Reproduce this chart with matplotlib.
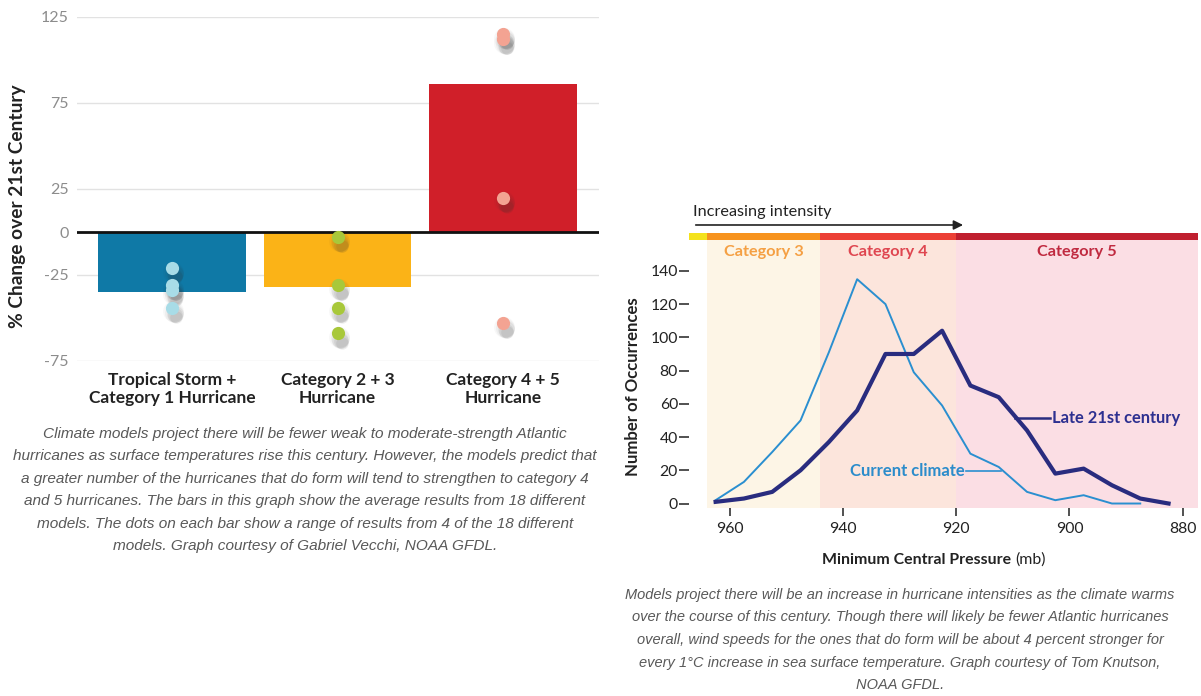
import matplotlib
matplotlib.use("Agg")
import matplotlib.pyplot as plt
from matplotlib.patches import Rectangle
import matplotlib.transforms as mtransforms

# ---------------- data: left chart ----------------
categories = ["Tropical Storm +\nCategory 1 Hurricane", "Category 2 + 3\nHurricane", "Category 4 + 5\nHurricane"]
mean_change = [-35, -32, 86]
model_dots = [[-21, -31, -34, -44], [-3, -31, -44, -59], [115, 112, 20, -53]]
left_yticks = [125, 75, 25, 0, -25, -75]

# ---------------- data: right chart ----------------
pressure_current = [962.5, 957.5, 952.5, 947.5, 942.5, 937.5, 932.5, 927.5, 922.5, 917.5, 912.5, 907.5, 902.5, 897.5, 892.5, 887.5]
current_climate = [2, 13, 31, 50, 91, 135, 120, 79, 59, 30, 22, 7, 2, 5, 0, 0]
pressure_late = [962.5, 957.5, 952.5, 947.5, 942.5, 937.5, 932.5, 927.5, 922.5, 917.5, 912.5, 907.5, 902.5, 897.5, 892.5, 887.5, 882.5]
late_21st = [1, 3, 7, 20, 37, 56, 90, 90, 104, 71, 64, 44, 18, 21, 11, 3, 0]
right_xticks = [960, 940, 920, 900, 880]
right_yticks = [0, 20, 40, 60, 80, 100, 120, 140]
category_names = ["Category 3", "Category 4", "Category 5"]
category_bounds = [964, 944, 920]  # start of Cat 3, Cat 4, Cat 5 (mb)

left_caption = ("Climate models project there will be fewer weak to moderate-strength Atlantic\n"
                "hurricanes as surface temperatures rise this century. However, the models predict that\n"
                "a greater number of the hurricanes that do form will tend to strengthen to category 4\n"
                "and 5 hurricanes. The bars in this graph show the average results from 18 different\n"
                "models. The dots on each bar show a range of results from 4 of the 18 different\n"
                "models. Graph courtesy of Gabriel Vecchi, NOAA GFDL.")
right_caption = ("Models project there will be an increase in hurricane intensities as the climate warms\n"
                 "over the course of this century. Though there will likely be fewer Atlantic hurricanes\n"
                 "overall, wind speeds for the ones that do form will be about 4 percent stronger for\n"
                 "every 1°C increase in sea surface temperature. Graph courtesy of Tom Knutson,\n"
                 "NOAA GFDL.")

# ---------------- styles ----------------
FONT = ["Lato", "DejaVu Sans"]
plt.rcParams["font.family"] = FONT
plt.rcParams["axes.unicode_minus"] = False
bar_colors = ["#0f79a6", "#fbb317", "#d01f29"]
dot_colors = ["#a8dce7", "#a8c83a", "#f3a392"]
band_colors = ["#fdf5e6", "#fce5dc", "#fbdee4"]
strip_colors = ["#f4e21c", "#f7931e", "#ec4036", "#c01f2f"]
label_colors = ["#f5a044", "#df4650", "#c02a40"]

W, H = 1201, 696
fig = plt.figure(figsize=(W / 100, H / 100), dpi=100)
fig.patch.set_facecolor("white")


def fx(px):
    return px / W


def fy(py):
    return 1 - py / H


# ================= LEFT CHART =================
axL = fig.add_axes([fx(77), fy(361), (599 - 77) / W, (361 - 17) / H])
axL.set_ylim(-75, 125)
axL.set_xlim(-0.574, 2.58)
xpos = list(range(len(categories)))
axL.bar(xpos, mean_change, width=0.894, color=bar_colors, zorder=2)
axL.axhline(0, color="#111111", lw=2.0, zorder=3)
axL.set_yticks(left_yticks)
axL.yaxis.grid(True, color="#e2e2e2", lw=1.0, zorder=0)
axL.set_axisbelow(True)
for s in axL.spines.values():
    s.set_visible(False)
axL.tick_params(axis="y", length=0, pad=6, labelsize=11.5, labelcolor="#8c8c8c")
axL.set_xticks(xpos)
axL.set_xticklabels(categories, fontsize=12.5, fontweight="bold", color="#222222", linespacing=1.12)
axL.tick_params(axis="x", length=0, pad=8)

shadow_layers = [(1.0, -2.5, 15, 0.035), (1.5, -3.5, 13.5, 0.05), (2.0, -4.5, 12, 0.07),
                 (2.5, -5.5, 10.5, 0.08), (3.0, -6.5, 9, 0.08)]
for i, vals in enumerate(model_dots):
    xs = [xpos[i]] * len(vals)
    for (dx, dy, ms, a) in shadow_layers:
        tr = mtransforms.offset_copy(axL.transData, fig=fig, x=dx, y=dy, units="points")
        axL.plot(xs, vals, "o", ms=ms, color="#333333", alpha=a, mec="none", transform=tr, zorder=4)
    axL.plot(xs, vals, "o", ms=9.5, color=dot_colors[i], mec="none", zorder=5)

fig.text(fx(18), fy(206), "% Change over 21st Century", rotation=90, ha="center", va="center",
         fontsize=13.8, fontweight="bold", color="#222222")

fig.text(fx(305), fy(490), left_caption, ha="center", va="center", fontsize=11.1,
         family=["Liberation Sans", "DejaVu Sans"], style="italic", color="#595959", linespacing=1.78)

# ================= RIGHT CHART =================
axR = fig.add_axes([fx(689), fy(508), (1198 - 689) / W, (508 - 240) / H])
xl = (967.2, 877.3)
axR.set_xlim(*xl)
axR.set_ylim(-2.7, 158.6)
edges = category_bounds + [xl[1]]
for k in range(3):
    axR.axvspan(edges[k], edges[k + 1], color=band_colors[k], lw=0, zorder=0)
strip_edges = [xl[0]] + category_bounds + [xl[1]]
btr = axR.get_xaxis_transform()
for k in range(4):
    axR.add_patch(Rectangle((strip_edges[k], 1.0), strip_edges[k + 1] - strip_edges[k], 0.027,
                            transform=btr, color=strip_colors[k], lw=0, clip_on=False, zorder=3))
for k in range(3):
    axR.text((edges[k] + edges[k + 1]) / 2, 0.955, category_names[k], transform=btr, ha="center",
             va="center", fontsize=11.7, fontweight="bold", color=label_colors[k])

axR.plot(pressure_current, current_climate, color="#2a8fd0", lw=1.4, zorder=4)
axR.plot(pressure_late, late_21st, color="#292c7f", lw=3.0, zorder=5)

# series labels with leader lines
axR.plot([909.6, 903.4], [51.5, 51.5], color="#292c7f", lw=1.8, zorder=5)
axR.text(903.0, 51.5, "Late 21st century", ha="left", va="center", fontsize=11.9,
         fontweight="bold", color="#2d3090", zorder=6)
axR.plot([918.3, 912.1], [19.6, 19.6], color="#2a8fd0", lw=1.2, zorder=5)
axR.text(918.5, 19.6, "Current climate", ha="right", va="center", fontsize=12,
         fontweight="bold", color="#2b8ccb", zorder=6)

# intensity arrow
axR.annotate("", xy=(918.3, 1.056), xytext=(966.5, 1.056), xycoords=btr, textcoords=btr,
             arrowprops=dict(arrowstyle="-|>", color="#222222", lw=1.2, mutation_scale=14),
             annotation_clip=False)
axR.text(966.5, 1.104, "Increasing intensity", transform=btr, ha="left", va="center",
         fontsize=11.7, color="#222222")

for s in axR.spines.values():
    s.set_visible(False)
axR.set_yticks(right_yticks)
axR.set_xticks(right_xticks)
axR.tick_params(axis="y", direction="out", length=7, width=1.2, color="#333333", pad=1,
                labelsize=11.3, labelcolor="#222222")
axR.tick_params(axis="x", direction="out", length=6, width=1.2, color="#333333", pad=4,
                labelsize=11.3, labelcolor="#222222")

fig.text(fx(633), fy(387), "Number of Occurrences", rotation=90, ha="center", va="center",
         fontsize=12.1, fontweight="bold", color="#222222")
fig.text(fx(1011), fy(560), "Minimum Central Pressure", ha="right", va="center",
         fontsize=11.4, fontweight="bold", color="#222222")
fig.text(fx(1015), fy(560), "(mb)", ha="left", va="center", fontsize=11.4, color="#222222")

fig.text(fx(900), fy(640), right_caption, ha="center", va="center", fontsize=10.5,
         family=["Liberation Sans", "DejaVu Sans"], style="italic", color="#595959", linespacing=1.78)

fig.savefig("out.png", dpi=100, facecolor="white")
